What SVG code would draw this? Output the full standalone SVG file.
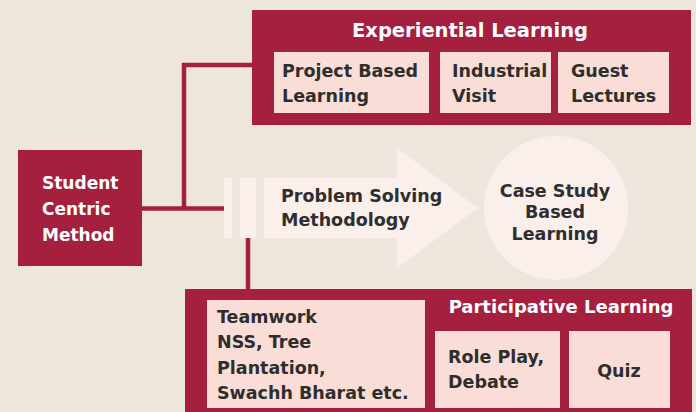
<svg xmlns="http://www.w3.org/2000/svg" width="696" height="412" viewBox="0 0 696 412">
  <style>
    .crimson { fill: #A51F3F; }
    .card { fill: #FADDD6; }
    .pale { fill: #FBEFEB; }
    .wire { stroke: #A51F3F; stroke-width: 4.5; fill: none; }
    text { font-family: "DejaVu Sans", "Liberation Sans", sans-serif; font-weight: bold; }
    .head { fill: #FFFFFF; font-size: 19.5px; }
    .head-s { fill: #FFFFFF; font-size: 18px; }
    .side { fill: #FFFFFF; font-size: 17px; }
    .body { fill: #2E2E2E; font-size: 17.5px; }
    .mid { text-anchor: middle; }
  </style>
  <rect width="696" height="412" fill="#EEE6DD"/>

  <!-- connector lines -->
  <g id="connectors">
    <polyline class="wire" points="254,65 184,65 184,208"/>
    <line class="wire" x1="142" y1="208.5" x2="224" y2="208.5"/>
    <line class="wire" x1="248" y1="238" x2="248" y2="291"/>
  </g>

  <!-- Student Centric Method -->
  <g id="student-centric">
    <rect class="crimson" x="18" y="150" width="124" height="116"/>
    <text class="side" x="42" y="189">Student</text>
    <text class="side" x="42" y="215">Centric</text>
    <text class="side" x="42" y="241">Method</text>
  </g>

  <!-- Experiential Learning -->
  <g id="experiential">
    <rect class="crimson" x="252" y="10" width="439" height="115"/>
    <text class="head mid" x="470" y="37">Experiential Learning</text>
    <rect class="card" x="274" y="52" width="155" height="61"/>
    <text class="body" x="282" y="77">Project Based</text>
    <text class="body" x="282" y="102">Learning</text>
    <rect class="card" x="440" y="52" width="111" height="61"/>
    <text class="body" x="452" y="77">Industrial</text>
    <text class="body" x="452" y="102">Visit</text>
    <rect class="card" x="558" y="52" width="111" height="61"/>
    <text class="body" x="571" y="77">Guest</text>
    <text class="body" x="571" y="102">Lectures</text>
  </g>

  <!-- Problem Solving Methodology arrow -->
  <g id="problem-solving">
    <rect class="pale" x="224" y="178" width="8" height="60"/>
    <rect class="pale" x="240" y="178" width="16" height="60"/>
    <polygon class="pale" points="264,178 397,178 397,148 478,208 397,268 397,238 264,238"/>
    <text class="body" x="281" y="202">Problem Solving</text>
    <text class="body" x="281" y="226">Methodology</text>
  </g>

  <!-- Case Study Based Learning -->
  <g id="case-study">
    <circle class="pale" cx="556" cy="208" r="72"/>
    <text class="body mid" x="555" y="197">Case Study</text>
    <text class="body mid" x="555" y="218">Based</text>
    <text class="body mid" x="555" y="240">Learning</text>
  </g>

  <!-- Participative Learning -->
  <g id="participative">
    <rect class="crimson" x="185" y="289" width="507" height="130"/>
    <text class="head-s mid" x="561" y="313">Participative Learning</text>
    <rect class="card" x="207" y="300" width="218" height="108"/>
    <text class="body" x="217" y="323">Teamwork</text>
    <text class="body" x="217" y="348">NSS, Tree</text>
    <text class="body" x="217" y="374">Plantation,</text>
    <text class="body" x="217" y="399">Swachh Bharat etc.</text>
    <rect class="card" x="435" y="331" width="125" height="77"/>
    <text class="body" x="448" y="363">Role Play,</text>
    <text class="body" x="448" y="388">Debate</text>
    <rect class="card" x="569" y="331" width="101" height="77"/>
    <text class="body mid" x="619" y="377">Quiz</text>
  </g>
</svg>
